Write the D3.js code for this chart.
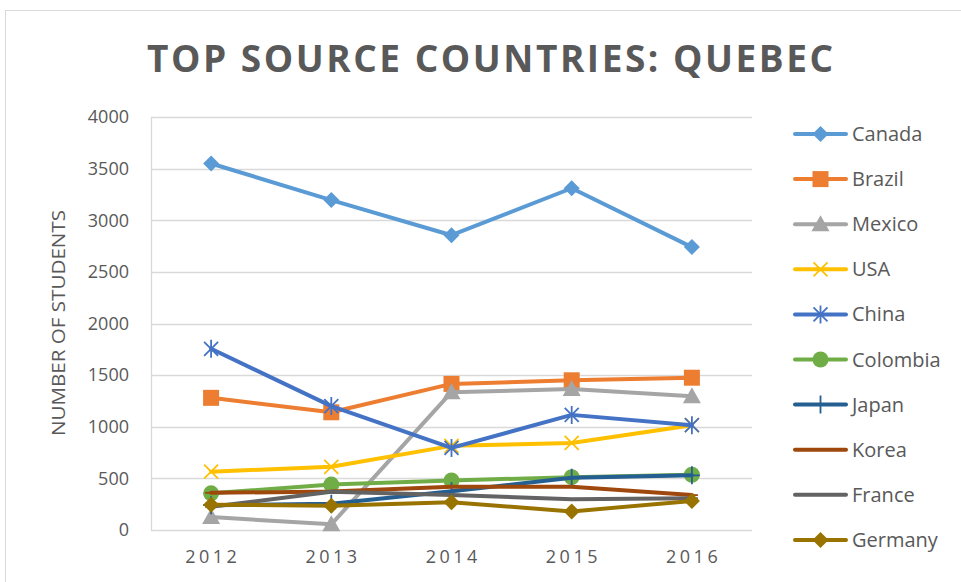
<!DOCTYPE html>
<html>
<head>
<meta charset="utf-8">
<script src="https://cdn.jsdelivr.net/npm/d3@7"></script>
<style>
  body { margin: 0; background: #fff; }
  svg { display: block; font-family: "Open Sans", sans-serif; }
</style>
</head>
<body>
<svg id="chart" width="961" height="582"></svg>
<script>
// data
var years = ["2012", "2013", "2014", "2015", "2016"]
var yTicks = [0, 500, 1000, 1500, 2000, 2500, 3000, 3500, 4000]

var canada   = [3550, 3195, 2855, 3310, 2740]
var brazil   = [1280, 1140, 1415, 1450, 1475]
var mexico   = [125, 55, 1335, 1365, 1295]
var usa      = [565, 612, 815, 843, 1015]
var china    = [1755, 1200, 795, 1115, 1015]
var colombia = [355, 440, 480, 512, 535]
var japan    = [240, 255, 375, 505, 530]
var korea    = [360, 372, 418, 418, 338]
var france   = [225, 370, 338, 298, 308]
var germany  = [245, 235, 268, 180, 282]

var seriesNames  = ["Canada", "Brazil", "Mexico", "USA", "China", "Colombia", "Japan", "Korea", "France", "Germany"]
var seriesValues = [canada, brazil, mexico, usa, china, colombia, japan, korea, france, germany]
var seriesColors = ["#5B9BD5", "#ED7D31", "#A5A5A5", "#FFC000", "#4472C4", "#70AD47", "#255E91", "#9E480E", "#636363", "#997300"]
var seriesMarkers = ["diamond", "square", "triangle", "x", "star", "circle", "plus", "dash", "dash", "diamond"]

var svg = d3.select("#chart")
var textColor = "#595959"
var gridColor = "#d9d9d9"

// outer chart frame
svg.append("rect").attr("x", 5.5).attr("y", 10.5).attr("width", 1000).attr("height", 1000)
    .style("fill", "none").style("stroke", gridColor)

// title
svg.append("text").attr("x", 490).attr("y", 72).attr("text-anchor", "middle")
    .attr("textLength", 686).attr("lengthAdjust", "spacing")
    .style("font-size", "37px").style("font-weight", "bold").style("fill", textColor)
    .text("TOP SOURCE COUNTRIES: QUEBEC")

var plot = {left: 151, right: 752, top: 117, bottom: 530}

var x = d3.scaleBand().domain(years).range([plot.left, plot.right])
var y = d3.scaleLinear().domain([0, 4000]).range([plot.bottom, plot.top])

// grid
svg.append("g").selectAll("line").data(yTicks).join("line")
    .attr("x1", plot.left).attr("x2", plot.right)
    .attr("y1", function(d){ return Math.round(y(d)) + 0.5 })
    .attr("y2", function(d){ return Math.round(y(d)) + 0.5 })
    .style("stroke", gridColor).style("stroke-width", 1.3)
svg.append("line").attr("x1", plot.left + 0.5).attr("x2", plot.left + 0.5)
    .attr("y1", plot.top).attr("y2", plot.bottom)
    .style("stroke", gridColor).style("stroke-width", 1.3)

// y axis
var yAxis = svg.append("g").attr("transform", "translate(" + plot.left + ",0)")
    .call(d3.axisLeft(y).tickValues(yTicks).tickFormat(d3.format("d")).tickSize(0).tickPadding(22))
yAxis.select(".domain").remove()
yAxis.selectAll("text").style("font-size", "18px").style("fill", textColor).style("font-family", "Open Sans")

// x axis
var xAxis = svg.append("g").attr("transform", "translate(0," + plot.bottom + ")")
    .call(d3.axisBottom(x).tickSize(0).tickPadding(20))
xAxis.select(".domain").remove()
xAxis.selectAll("text").style("font-size", "18px").style("fill", textColor)
    .style("font-family", "Open Sans").style("letter-spacing", "3.5px")
    .attr("dx", "1.7px")

// y title
svg.append("text").attr("transform", "translate(65,323) rotate(-90)")
    .attr("text-anchor", "middle").attr("textLength", 226).attr("lengthAdjust", "spacingAndGlyphs")
    .style("font-size", "19px").style("fill", textColor)
    .text("NUMBER OF STUDENTS")

function drawMarker(g, type, color, cx, cy){
    if(type == "diamond"){
        g.append("path").attr("d", "M0,-8L8,0L0,8L-8,0Z").attr("transform", "translate(" + cx + "," + cy + ")")
            .style("fill", color)
    } else if(type == "square"){
        g.append("rect").attr("x", cx - 8).attr("y", cy - 8).attr("width", 16).attr("height", 16).style("fill", color)
    } else if(type == "triangle"){
        g.append("path").attr("d", "M0,-9L9,7L-9,7Z").attr("transform", "translate(" + cx + "," + cy + ")").style("fill", color)
    } else if(type == "circle"){
        g.append("circle").attr("cx", cx).attr("cy", cy).attr("r", 8).style("fill", color)
    } else if(type == "x"){
        g.append("path").attr("d", "M-7,-7L7,7M-7,7L7,-7").attr("transform", "translate(" + cx + "," + cy + ")")
            .style("stroke", color).style("stroke-width", 1.8).style("fill", "none")
    } else if(type == "star"){
        g.append("path").attr("d", "M-7,-7L7,7M-7,7L7,-7M0,-9L0,9").attr("transform", "translate(" + cx + "," + cy + ")")
            .style("stroke", color).style("stroke-width", 1.8).style("fill", "none")
    } else if(type == "plus"){
        g.append("path").attr("d", "M0,-9L0,9M-8,0L8,0").attr("transform", "translate(" + cx + "," + cy + ")")
            .style("stroke", color).style("stroke-width", 1.8).style("fill", "none")
    } else if(type == "dash"){
        g.append("path").attr("d", "M-6,0L6,0").attr("transform", "translate(" + cx + "," + cy + ")")
            .style("stroke", color).style("stroke-width", 1.8).style("fill", "none")
    }
}

var line = d3.line()
    .x(function(d, i){ return x(years[i]) + x.bandwidth() / 2 })
    .y(function(d){ return y(d) })

var series = svg.append("g")
seriesValues.forEach(function(vals, s){
    var g = series.append("g").attr("class", "series")
    g.append("path").datum(vals).attr("d", line)
        .style("fill", "none").style("stroke", seriesColors[s]).style("stroke-width", 4)
        .style("stroke-linejoin", "round").style("stroke-linecap", "round")
    vals.forEach(function(v, i){
        drawMarker(g, seriesMarkers[s], seriesColors[s], x(years[i]) + x.bandwidth() / 2, y(v))
    })
})

// legend
var legend = svg.append("g")
seriesNames.forEach(function(name, s){
    var ly = 134 + s * 45.1
    var g = legend.append("g")
    g.append("line").attr("x1", 795).attr("x2", 846).attr("y1", ly).attr("y2", ly)
        .style("stroke", seriesColors[s]).style("stroke-width", 4).style("stroke-linecap", "round")
    drawMarker(g, seriesMarkers[s], seriesColors[s], 820.5, ly)
    g.append("text").attr("x", 852).attr("y", ly).attr("dy", "0.35em")
        .style("font-size", "20px").style("fill", textColor).text(name)
})
</script>
</body>
</html>
